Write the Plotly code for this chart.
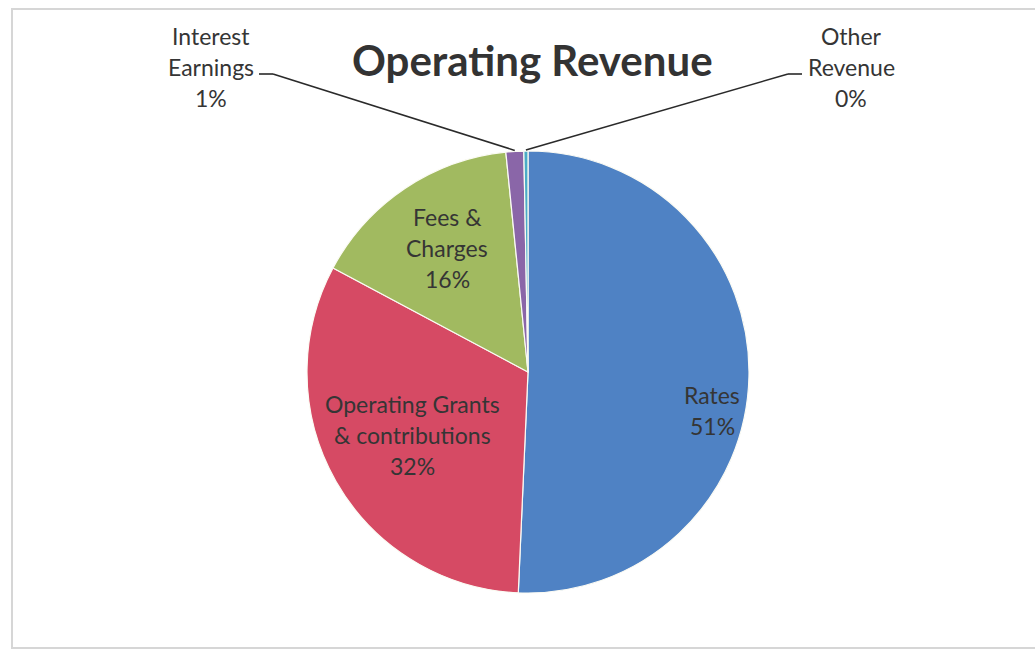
import math
import plotly.graph_objects as go

# Revenue categories, in drawing order (clockwise from 12 o'clock)
categories = ["Rates", "Operating Grants & contributions", "Fees & Charges",
              "Interest Earnings", "Other Revenue"]
values = [50.7, 32.1, 15.6, 1.3, 0.3]
colors = ["#4f82c4", "#d64a64", "#a1ba60", "#8a66a8", "#4bacc6"]

W, H = 1035, 651
CX, CY, R = 528, 372, 221          # pie centre and radius in pixels
FONT = "Lato, Calibri, sans-serif"
TXT = "#353535"

total = sum(values)
pcts = [v / total * 100 for v in values]


def px(x):
    return x / W


def py(y):
    return 1 - y / H


fig = go.Figure(go.Pie(
    labels=categories,
    values=values,
    sort=False,
    direction="clockwise",
    rotation=0,
    marker=dict(colors=colors, line=dict(color="#fbfbf4", width=1.2)),
    textinfo="none",
    hoverinfo="label+percent",
    showlegend=False,
    domain=dict(x=[px(CX - R), px(CX + R)], y=[py(CY + R), py(CY - R)]),
))

annotations = []


def add_label(lines, cx, cy, size=23, step=31, color=TXT, bold=False):
    n = len(lines)
    for i, t in enumerate(lines):
        y = cy + (i - (n - 1) / 2) * step
        annotations.append(dict(
            x=px(cx), y=py(y), xref="paper", yref="paper",
            text=f"<b>{t}</b>" if bold else t, showarrow=False,
            xanchor="center", yanchor="middle",
            font=dict(family=FONT, size=size, color=color)))


def pct_text(i):
    return f"{pcts[i]:.0f}%"


# slice labels
add_label(["Rates", pct_text(0)], 712, 410)
add_label(["Operating Grants", "& contributions", pct_text(1)], 412, 435)
add_label(["Fees &", "Charges", pct_text(2)], 447, 248)
add_label(["Interest", "Earnings", pct_text(3)], 211, 67)
add_label(["Other", "Revenue", pct_text(4)], 851, 67)

# title
add_label(["Operating Revenue"], 532, 60, size=42, color="#333333", bold=True)


# leader lines for the two thin slices, ending at each slice's mid-angle edge
def edge_point(i, extra=1.0):
    start = sum(pcts[:i]) / 100 * 360
    mid = math.radians(start + pcts[i] / 100 * 360 / 2)
    rr = R + extra
    return CX + rr * math.sin(mid), CY - rr * math.cos(mid)


shapes = []
line_style = dict(color="#2a2a2a", width=1.6)

ix, iy = edge_point(3)
shapes.append(dict(type="line", xref="paper", yref="paper",
                   x0=px(259), y0=py(74), x1=px(273), y1=py(74), line=line_style))
shapes.append(dict(type="line", xref="paper", yref="paper",
                   x0=px(273), y0=py(74), x1=px(ix), y1=py(iy), line=line_style))

ox, oy = edge_point(4)
shapes.append(dict(type="line", xref="paper", yref="paper",
                   x0=px(802), y0=py(74), x1=px(788), y1=py(74), line=line_style))
shapes.append(dict(type="line", xref="paper", yref="paper",
                   x0=px(788), y0=py(74), x1=px(ox), y1=py(oy), line=line_style))

# chart frame
shapes.append(dict(type="rect", xref="paper", yref="paper",
                   x0=px(12), y0=py(648), x1=px(1040), y1=py(9),
                   line=dict(color="#d6d6d6", width=2), layer="below"))

fig.update_layout(
    width=W, height=H,
    margin=dict(l=0, r=0, t=0, b=0),
    paper_bgcolor="white",
    plot_bgcolor="white",
    annotations=annotations,
    shapes=shapes,
)

fig.write_html("out.html")
